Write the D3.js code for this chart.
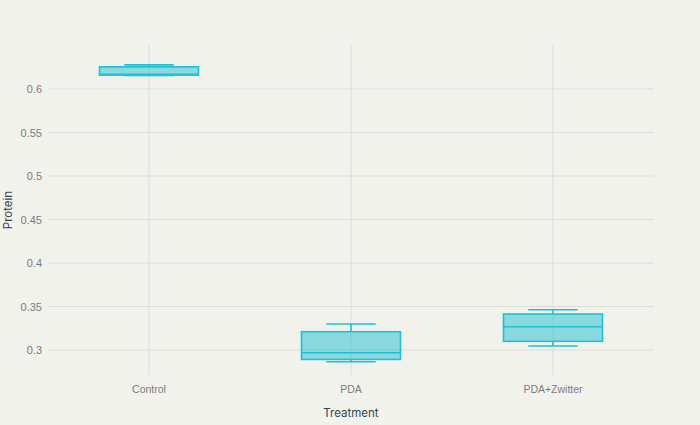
<!DOCTYPE html>
<html>
<head>
<meta charset="utf-8">
<script src="https://cdn.jsdelivr.net/npm/d3@7"></script>
<style>
  body { margin: 0; background: #f2f2ed; }
  svg { display: block; font-family: Inter, "Open Sans", sans-serif; }
</style>
</head>
<body>
<div id="chart"></div>
<script>
'use strict'

// box stats
const treatments = ['Control', 'PDA', 'PDA+Zwitter']
const mins    = [0.6155, 0.2866, 0.3046]
const q1s     = [0.6160, 0.2892, 0.3100]
const medians = [0.6170, 0.2969, 0.3268]
const q3s     = [0.6255, 0.3210, 0.3414]
const maxs    = [0.6278, 0.3299, 0.3463]
const yTicks  = [0.3, 0.35, 0.4, 0.45, 0.5, 0.55, 0.6]

const width = 700
const height = 425
const margin = { top: 45, right: 46, bottom: 50, left: 48 }
const color = '#22bfd2'

const boxes = treatments.map((t, i) => ({
  t, min: mins[i], q1: q1s[i], med: medians[i], q3: q3s[i], max: maxs[i]
}))

const svg = d3.select('#chart')
  .append('svg')
  .attr('width', width)
  .attr('height', height)

svg.append('rect')
  .attr('width', width)
  .attr('height', height)
  .attr('fill', '#f2f2ed')

const x = d3.scaleBand()
  .domain(treatments)
  .range([margin.left, width - margin.right])

const y = d3.scaleLinear()
  .domain([0.2713, 0.6506])
  .range([height - margin.bottom, margin.top])

// grid
svg.append('g')
  .selectAll('line')
  .data(yTicks)
  .enter()
  .append('line')
  .attr('x1', margin.left)
  .attr('x2', width - margin.right)
  .attr('y1', d => y(d))
  .attr('y2', d => y(d))
  .attr('stroke', '#dcdcd8')
  .attr('stroke-width', 1)

svg.append('g')
  .selectAll('line')
  .data(treatments)
  .enter()
  .append('line')
  .attr('x1', d => x(d) + x.bandwidth() / 2)
  .attr('x2', d => x(d) + x.bandwidth() / 2)
  .attr('y1', margin.top)
  .attr('y2', height - margin.bottom)
  .attr('stroke', '#dcdcd8')
  .attr('stroke-width', 1)

// axes
const yAxis = svg.append('g')
  .attr('transform', `translate(${margin.left},0)`)
  .call(d3.axisLeft(y).tickValues(yTicks).tickFormat(d3.format('')).tickSize(0).tickPadding(6))
yAxis.select('.domain').remove()
yAxis.selectAll('text').attr('fill', '#7c7c7c').attr('font-size', 11)

const xAxis = svg.append('g')
  .attr('transform', `translate(0,${height - margin.bottom})`)
  .call(d3.axisBottom(x).tickSize(0).tickPadding(11))
xAxis.select('.domain').remove()
xAxis.selectAll('text').attr('fill', '#7c7c7c').attr('font-size', 10.5)

svg.append('text')
  .attr('x', (margin.left + width - margin.right) / 2)
  .attr('y', 417)
  .attr('text-anchor', 'middle')
  .attr('font-size', 11.5)
  .attr('fill', '#34474f')
  .text('Treatment')

svg.append('text')
  .attr('transform', `translate(12,${(margin.top + height - margin.bottom) / 2}) rotate(-90)`)
  .attr('text-anchor', 'middle')
  .attr('font-size', 11.5)
  .attr('fill', '#34474f')
  .text('Protein')

// boxes
const boxW = x.bandwidth() * 0.49
const cx = d => x(d.t) + x.bandwidth() / 2
const sw = 1.6

const g = svg.append('g')
  .selectAll('g')
  .data(boxes)
  .enter()
  .append('g')

g.append('line')
  .attr('x1', cx).attr('x2', cx)
  .attr('y1', d => y(d.max)).attr('y2', d => y(d.q3))
  .attr('stroke', color).attr('stroke-width', sw)
g.append('line')
  .attr('x1', cx).attr('x2', cx)
  .attr('y1', d => y(d.q1)).attr('y2', d => y(d.min))
  .attr('stroke', color).attr('stroke-width', sw)
g.append('line')
  .attr('x1', d => cx(d) - boxW / 4).attr('x2', d => cx(d) + boxW / 4)
  .attr('y1', d => y(d.max)).attr('y2', d => y(d.max))
  .attr('stroke', color).attr('stroke-width', sw)
g.append('line')
  .attr('x1', d => cx(d) - boxW / 4).attr('x2', d => cx(d) + boxW / 4)
  .attr('y1', d => y(d.min)).attr('y2', d => y(d.min))
  .attr('stroke', color).attr('stroke-width', sw)
g.append('rect')
  .attr('x', d => cx(d) - boxW / 2)
  .attr('width', boxW)
  .attr('y', d => y(d.q3))
  .attr('height', d => y(d.q1) - y(d.q3))
  .attr('fill', color).attr('fill-opacity', 0.5)
  .attr('stroke', color).attr('stroke-width', sw)
g.append('line')
  .attr('x1', d => cx(d) - boxW / 2).attr('x2', d => cx(d) + boxW / 2)
  .attr('y1', d => y(d.med)).attr('y2', d => y(d.med))
  .attr('stroke', color).attr('stroke-width', sw)
</script>
</body>
</html>
